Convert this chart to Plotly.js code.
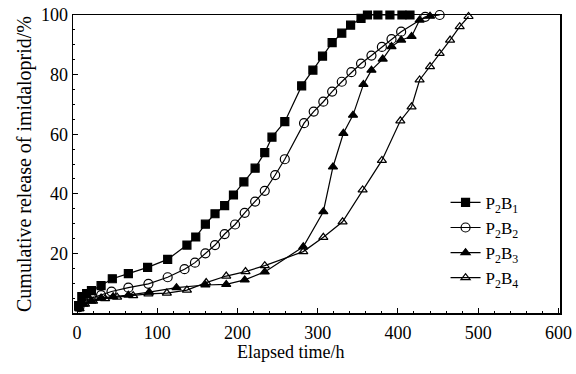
<!DOCTYPE html>
<html>
<head>
<meta charset="utf-8">
<script src="https://cdn.plot.ly/plotly-3.0.1.min.js"></script>
<style>html,body{margin:0;padding:0;background:#fff;}#chart{width:576px;height:374px;}</style>
</head>
<body>
<div id="chart"></div>
<script>
// P2B1 (filled squares)
var t1 = [2, 6, 12, 18, 30, 44, 64, 88, 113, 137, 148, 160, 172, 184, 195, 208, 222, 234, 243, 259, 280, 294, 306, 318, 330, 341, 354, 362, 375, 390, 405, 415];
var r1 = [2.5, 5.5, 6.5, 7.5, 9.2, 11.5, 13.2, 15.3, 18.0, 22.8, 25.5, 29.8, 33.3, 36.0, 39.6, 44.0, 48.6, 53.8, 59.0, 64.2, 76.2, 81.5, 86.2, 90.7, 93.9, 96.6, 98.9, 100, 100, 100, 100, 100];
// P2B2 (open circles)
var t2 = [3, 8, 18, 30, 43, 64, 89, 113, 134, 147, 160, 172, 184, 197, 209, 222, 234, 247, 259, 283, 295, 307, 318, 330, 342, 354, 367, 380, 392, 404, 434, 452];
var r2 = [2.0, 4.0, 5.0, 6.0, 7.2, 8.5, 9.8, 12.0, 14.7, 16.9, 20.0, 22.8, 26.5, 29.7, 33.6, 37.4, 41.0, 46.3, 51.6, 63.7, 67.6, 70.9, 74.3, 77.6, 80.8, 83.7, 86.4, 89.3, 91.9, 94.4, 99.4, 100];
// P2B3 (filled triangles)
var t3 = [3, 8, 18, 30, 45, 64, 90, 124, 160, 186, 209, 234, 282, 307, 319, 332, 344, 357, 367, 381, 392, 404, 417, 427, 440];
var r3 = [1.5, 3.0, 4.0, 5.0, 5.5, 6.0, 7.0, 8.5, 9.4, 9.6, 11.1, 13.8, 22.2, 34.0, 49.0, 60.3, 66.4, 76.7, 81.5, 85.2, 89.4, 91.6, 92.8, 98.3, 99.6];
// P2B4 (open triangles)
var t4 = [3, 10, 20, 35, 50, 70, 89, 112, 137, 161, 186, 210, 234, 282, 307, 331, 356, 380, 403, 417, 427, 440, 452, 465, 477, 488];
var r4 = [1.5, 3.0, 4.0, 4.8, 5.3, 5.8, 6.4, 6.7, 7.7, 10.2, 12.4, 13.9, 15.9, 20.6, 25.4, 30.6, 41.3, 51.2, 64.5, 69.2, 78.2, 82.7, 87.1, 91.6, 96.1, 99.5];

var seriesNames = ['P<sub>2</sub>B<sub>1</sub>', 'P<sub>2</sub>B<sub>2</sub>', 'P<sub>2</sub>B<sub>3</sub>', 'P<sub>2</sub>B<sub>4</sub>'];
var xTicks = [0, 100, 200, 300, 400, 500, 600];
var yTicks = [20, 40, 60, 80, 100];

var FONT = '"Liberation Serif", "Times New Roman", Times, serif';
function tr(x, y, name, sym, size, dash) {
  return {
    x: x, y: y, name: name, type: 'scatter', mode: 'lines+markers', cliponaxis: false,
    line: {color: '#000', width: 1.2, dash: dash || 'solid'},
    marker: {symbol: sym, size: size, color: '#000', line: {color: '#000', width: 1.2}}
  };
}
var data = [
  tr(t1, r1, seriesNames[0], 'square', 8, 'solid'),
  tr(t2, r2, seriesNames[1], 'circle-open', 9),
  tr(t3, r3, seriesNames[2], 'triangle-up', 8),
  tr(t4, r4, seriesNames[3], 'triangle-up-open', 8)
];
var layout = {
  width: 576, height: 374,
  margin: {l: 73, r: 16, t: 15, b: 61},
  paper_bgcolor: '#fff', plot_bgcolor: '#fff',
  font: {family: FONT, color: '#000', size: 17},
  showlegend: true,
  legend: {x: 0.765, y: 0.43, xanchor: 'left', yanchor: 'top', bgcolor: 'rgba(0,0,0,0)',
           font: {family: FONT, size: 17, color: '#000'}, borderwidth: 0},
  xaxis: {
    range: [-5, 602], tickvals: xTicks, ticks: 'inside', ticklen: 5, tickwidth: 1, tickcolor: '#000',
    showline: true, linecolor: '#000', linewidth: 1.5, mirror: true, showgrid: false, zeroline: false,
    tickfont: {family: FONT, size: 18, color: '#000'}, ticklabelstandoff: 3,
    minor: {dtick: 20, ticks: 'inside', ticklen: 2, tickcolor: '#000', showgrid: false}
  },
  yaxis: {
    range: [0, 100], tickvals: yTicks, ticks: 'inside', ticklen: 5, tickwidth: 1, tickcolor: '#000',
    showline: true, linecolor: '#000', linewidth: 1.5, mirror: true, showgrid: false, zeroline: false,
    tickfont: {family: FONT, size: 18, color: '#000'},
    minor: {dtick: 5, ticks: 'inside', ticklen: 2, tickcolor: '#000', showgrid: false},
    title: {text: 'Cumulative release of imidaloprid/%', font: {family: FONT, size: 20, color: '#000'}, standoff: 4}
  },
  annotations: [{
    text: 'Elapsed time/h', xref: 'paper', yref: 'paper', x: 0.4476, y: -0.131,
    xanchor: 'center', yanchor: 'middle', showarrow: false,
    font: {family: FONT, size: 18, color: '#000'}
  }]
};
Plotly.newPlot('chart', data, layout, {displayModeBar: false, staticPlot: true});
</script>
</body>
</html>
